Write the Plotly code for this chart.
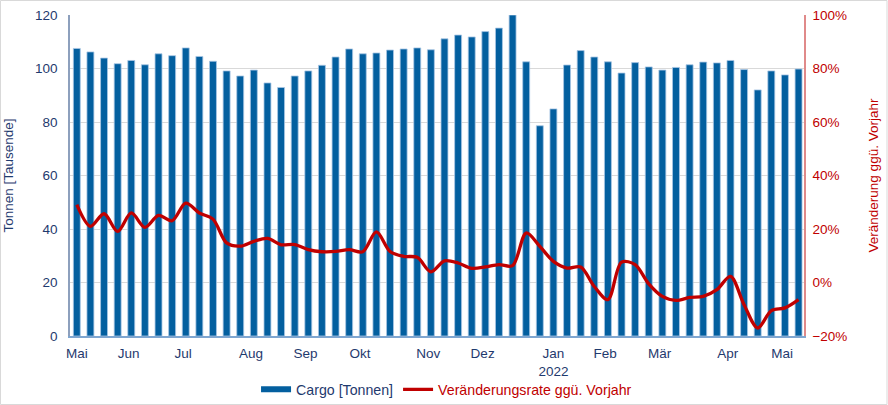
import plotly.graph_objects as go

# Weekly index (May 2021 - May 2022)
weeks = list(range(54))

cargo = [107.5, 106.2, 103.9, 101.8, 103.0, 101.4, 105.5, 104.8, 107.7, 104.5,
         102.7, 99.1, 97.2, 99.4, 94.6, 92.9, 97.2, 99.1, 101.2, 104.3,
         107.3, 105.5, 105.8, 106.9, 107.3, 107.7, 107.0, 111.1, 112.5, 111.8,
         113.8, 115.1, 120.0, 102.5, 78.6, 84.9, 101.3, 106.7, 104.3, 102.5,
         98.3, 102.2, 100.6, 99.4, 100.4, 101.4, 102.4, 102.1, 103.0, 99.6,
         92.0, 99.1, 97.6, 99.8]

change = [29.1, 21.0, 25.7, 19.1, 26.0, 20.6, 25.1, 23.1, 29.7, 26.0,
          23.7, 14.8, 13.6, 15.4, 16.5, 14.1, 14.2, 12.3, 11.5, 11.6,
          12.3, 11.5, 18.9, 11.6, 9.8, 9.4, 4.0, 8.1, 7.3, 5.3,
          5.8, 6.7, 6.3, 18.5, 13.5, 7.9, 5.4, 5.8, -1.5, -6.4,
          7.6, 6.7, -0.5, -5.2, -6.7, -5.6, -5.2, -2.7, 2.3, -8.3,
          -17.0, -10.5, -9.5, -6.4]

tick_pos = [0, 3.8, 7.8, 12.8, 16.8, 20.8, 25.8, 29.8, 35.0, 38.8, 42.8, 47.8, 51.8]
tick_text = ["Mai", "Jun", "Jul", "Aug", "Sep", "Okt", "Nov", "Dez",
             "Jan<br>2022", "Feb", "Mär", "Apr", "Mai"]

BLUE = "#035f9f"
NAVY = "#1f3a6e"
RED = "#c00000"
FONT = "Liberation Sans, Arial, sans-serif"

fig = go.Figure()
fig.add_trace(go.Bar(
    x=weeks, y=cargo, name="Cargo [Tonnen]",
    marker=dict(color=BLUE, line=dict(color="#a9c6e4", width=0.8)),
    showlegend=False, yaxis="y"))
# legend entry for bars (wide bar symbol)
fig.add_trace(go.Scatter(
    x=[None], y=[None], mode="lines", name="<span style='color:%s'>Cargo [Tonnen]</span>" % NAVY,
    line=dict(color=BLUE, width=6), yaxis="y"))
fig.add_trace(go.Scatter(
    x=weeks, y=change, mode="lines",
    name="<span style='color:%s'>Veränderungsrate ggü. Vorjahr</span>" % RED,
    line=dict(color=RED, width=3.3, shape="spline", smoothing=0.9),
    yaxis="y2"))

fig.update_layout(
    width=888, height=405,
    margin=dict(l=70, r=84, t=15, b=69, autoexpand=False),
    paper_bgcolor="white", plot_bgcolor="white",
    font=dict(family=FONT, size=13, color=NAVY),
    bargap=0.49,
    xaxis=dict(range=[-0.5, 53.4], tickmode="array", tickvals=tick_pos, ticktext=tick_text,
               showgrid=False, zeroline=False, showline=True, linecolor="#7fa6d0", linewidth=1.5,
               ticks="", tickfont=dict(color=NAVY, size=13.5), automargin=False,
               ticklabelstandoff=4),
    yaxis=dict(range=[0, 120], dtick=20, showgrid=True, gridcolor="#d9d9d9", gridwidth=1,
               zeroline=False, showline=True, linecolor="#8da0bd", linewidth=1.5,
               ticks="", tickfont=dict(color=NAVY, size=13.5), automargin=False,
               ticklabelstandoff=8,
               title=dict(text="Tonnen [Tausende]", font=dict(color=NAVY, size=13.5), standoff=18)),
    yaxis2=dict(range=[-20, 100], dtick=20, overlaying="y", side="right", showgrid=False,
                zeroline=False, showline=True, linecolor="#e08a8a", linewidth=1.5,
                ticks="", ticksuffix="%", tickfont=dict(color=RED, size=13.5), automargin=False,
                ticklabelstandoff=4,
                title=dict(text="Veränderung ggü. Vorjahr", font=dict(color=RED, size=13.5), standoff=22)),
    legend=dict(orientation="h", x=0.513, xanchor="center", y=-0.167, yanchor="middle",
                font=dict(size=14.2), itemwidth=30, traceorder="normal",
                bgcolor="rgba(0,0,0,0)"),
    shapes=[dict(type="rect", xref="paper", yref="paper",
                 x0=-69.5/734, x1=1 + 83/734, y0=-68.5/321, y1=1 + 14.5/321,
                 line=dict(color="#d9d9d9", width=1), fillcolor="rgba(0,0,0,0)", layer="below")],
)

fig.write_html("out.html", config={"displayModeBar": False},
               post_script="document.body.style.margin='0';")
